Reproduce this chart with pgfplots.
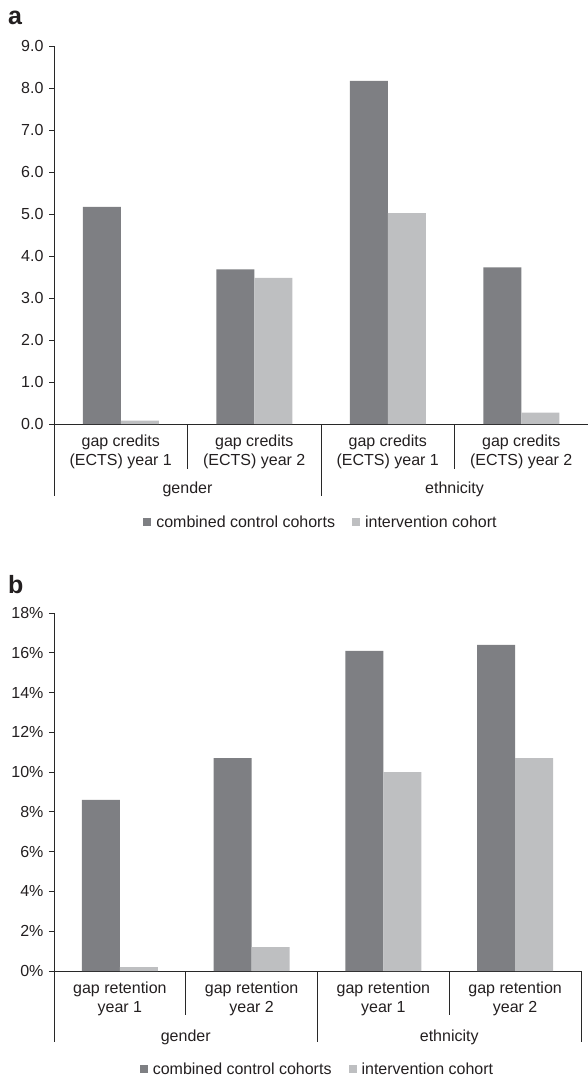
\documentclass[border=0pt]{standalone}
\usepackage{fontspec}
\setmainfont{Liberation Sans}
\usepackage{pgfplots}
\pgfplotsset{compat=1.18}
\newcommand\lf{\fontsize{16}{19.5}\selectfont}
\definecolor{darkbar}{RGB}{126,127,131}
\definecolor{lightbar}{RGB}{190,191,193}
\definecolor{txt}{RGB}{35,31,32}
\definecolor{axl}{RGB}{40,40,40}
\pgfplotsset{
 mybars/.style={
  scale only axis, ybar=0pt, bar width=38pt, xmin=-0.5, xmax=3.5, ymin=0,
  axis x line*=bottom, axis y line*=left,
  axis line style={axl, line width=0.9pt},
  xtick={0,1,2,3}, x tick style={draw=none},
  y tick style={axl, line width=0.9pt}, tick align=outside, major tick length=5pt,
  tick label style={font=\lf, text=txt},
  yticklabel style={xshift=-2pt},
  /pgf/number format/assume math mode=true,
  xticklabel style={align=center, yshift=-2pt},
  clip=false,
  legend columns=2,
  legend style={draw=none, fill=none, font=\lf, text=txt, at={(axis description cs:0.5,0)}, anchor=center, yshift=-98pt, /tikz/every even column/.append style={column sep=15pt}},
  legend image code/.code={\fill[##1] (0pt,-4pt) rectangle (8pt,4pt); \path (11pt,0pt);},
 }
}
\begin{document}
\begin{tikzpicture}
\useasboundingbox (0,0) rectangle (588pt,-1078pt);
\node[anchor=base west, font=\fontsize{25}{25}\selectfont\bfseries, text=txt, inner sep=0pt] at (8pt,-25pt) {a};
\begin{axis}[mybars, at={(54pt,-424pt)}, anchor=south west, width=534pt, height=378pt,
  ymax=9, ytick={0,1,...,9},
  yticklabel style={/pgf/number format/.cd, fixed, fixed zerofill, precision=1},
  xticklabels={{gap credits\\(ECTS) year 1},{gap credits\\(ECTS) year 2},{gap credits\\(ECTS) year 1},{gap credits\\(ECTS) year 2}}]
\addplot[fill=darkbar, draw=none] coordinates {(0,5.17) (1,3.68) (2,8.17) (3,3.73)};
\addplot[fill=lightbar, draw=none] coordinates {(0,0.08) (1,3.48) (2,5.02) (3,0.27)};
\legend{combined control cohorts, intervention cohort}
\draw[axl, line width=0.9pt] (axis cs:0.5,0) -- ++(0pt,-45pt);
\draw[axl, line width=0.9pt] (axis cs:2.5,0) -- ++(0pt,-45pt);
\draw[axl, line width=0.9pt] (axis cs:-0.5,0) -- ++(0pt,-72pt);
\draw[axl, line width=0.9pt] (axis cs:1.5,0) -- ++(0pt,-72pt);
\draw[axl, line width=0.9pt] (axis cs:3.5,0) -- ++(0pt,-72pt);
\node[font=\lf, text=txt, yshift=-65pt] at (axis cs:0.5,0) {gender};
\node[font=\lf, text=txt, yshift=-65pt] at (axis cs:2.5,0) {ethnicity};
\end{axis}
\node[anchor=base west, font=\fontsize{25}{25}\selectfont\bfseries, text=txt, inner sep=0pt] at (8pt,-593pt) {b};
\begin{axis}[mybars, at={(54pt,-971pt)}, anchor=south west, width=527pt, height=358pt,
  ymax=18, ytick={0,2,...,18},
  yticklabel={\pgfmathprintnumber{\tick}\%},
  xticklabels={{gap retention\\year 1},{gap retention\\year 2},{gap retention\\year 1},{gap retention\\year 2}}]
\addplot[fill=darkbar, draw=none] coordinates {(0,8.6) (1,10.7) (2,16.1) (3,16.4)};
\addplot[fill=lightbar, draw=none] coordinates {(0,0.2) (1,1.2) (2,10.0) (3,10.7)};
\legend{combined control cohorts, intervention cohort}
\draw[axl, line width=0.9pt] (axis cs:0.5,0) -- ++(0pt,-44pt);
\draw[axl, line width=0.9pt] (axis cs:2.5,0) -- ++(0pt,-44pt);
\draw[axl, line width=0.9pt] (axis cs:-0.5,0) -- ++(0pt,-71pt);
\draw[axl, line width=0.9pt] (axis cs:1.5,0) -- ++(0pt,-71pt);
\draw[axl, line width=0.9pt] (axis cs:3.5,0) -- ++(0pt,-71pt);
\node[font=\lf, text=txt, yshift=-66pt] at (axis cs:0.5,0) {gender};
\node[font=\lf, text=txt, yshift=-66pt] at (axis cs:2.5,0) {ethnicity};
\end{axis}
\end{tikzpicture}
\end{document}
